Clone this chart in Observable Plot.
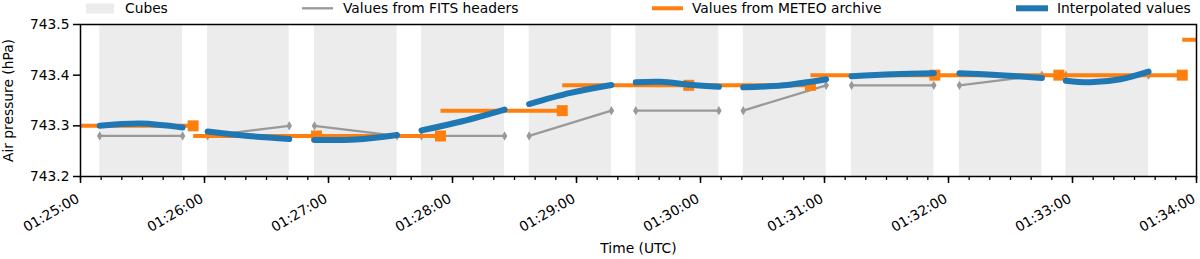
<!DOCTYPE html>
<html><head><meta charset="utf-8">
<script src="https://cdn.jsdelivr.net/npm/d3@7"></script>
<script src="https://cdn.jsdelivr.net/npm/@observablehq/plot@0.6"></script>
<style>
body{margin:0;background:#fff;}
#wrap{position:relative;width:1200px;height:259px;font-family:"DejaVu Sans",sans-serif;}
#legend{position:absolute;left:0;top:0;}
#chart{position:absolute;left:0;top:0;}
</style></head><body><div id="wrap"><div id="chart"></div><div id="legend"></div></div>
<script>
// ---- data ----
const cubeStart = ["01:25:09.3","01:26:01.5","01:26:53.2","01:27:45.0","01:28:37.1","01:29:28.7","01:30:20.7","01:31:13.1","01:32:05.3","01:32:56.8"];
const cubeEnd   = ["01:25:49.4","01:26:41.0","01:27:33.2","01:28:25.2","01:29:16.9","01:30:08.9","01:31:00.8","01:31:52.9","01:32:45.2","01:33:36.8"];
const fitsStart = [743.28,743.28,743.30,743.28,743.28,743.33,743.33,743.38,743.38,743.40];
const fitsEnd   = [743.28,743.30,743.28,743.28,743.33,743.33,743.38,743.38,743.40,743.40];
const meteoTimes  = ["01:24:54.5","01:25:54.5","01:26:54.2","01:27:54.2","01:28:53.1","01:29:54.3","01:30:53.2","01:31:53.4","01:32:53.4","01:33:53.1","01:34:53.0"];
const meteoValues = [743.30,743.30,743.28,743.28,743.33,743.38,743.38,743.40,743.40,743.40,743.47];
const interpCube  = [0,0,0, 1,1,1, 2,2,2, 3,3,3, 4,4,4, 5,5,5,5, 6,6,6, 7,7,7, 8,8,8, 9,9,9,9];
const interpTimes = ["01:25:09.3","01:25:29.0","01:25:49.4",
  "01:26:01.5","01:26:21.3","01:26:41.0",
  "01:26:53.2","01:27:13.1","01:27:33.2",
  "01:27:45.0","01:28:04.8","01:28:25.2",
  "01:28:37.1","01:28:57.1","01:29:16.9",
  "01:29:28.7","01:29:40.6","01:29:55.2","01:30:08.9",
  "01:30:20.7","01:30:40.2","01:31:00.8",
  "01:31:13.1","01:31:33.0","01:31:52.9",
  "01:32:05.3","01:32:25.2","01:32:45.2",
  "01:32:56.8","01:33:08.7","01:33:23.2","01:33:36.8"];
const interpValues = [743.300,743.3045,743.2966,
  743.289,743.280,743.274,
  743.272,743.273,743.282,
  743.291,743.309,743.332,
  743.343,743.365,743.3805,
  743.386,743.387,743.381,743.377,
  743.376,743.380,743.392,
  743.398,743.402,743.404,
  743.404,743.400,743.3945,
  743.389,743.386,743.392,743.407];
const xTickLabels = ["01:25:00","01:26:00","01:27:00","01:28:00","01:29:00","01:30:00","01:31:00","01:32:00","01:33:00","01:34:00"];
const yTicks = [743.2,743.3,743.4,743.5];
const legendLabels = ["Cubes","Values from FITS headers","Values from METEO archive","Interpolated values"];
const xLabel = "Time (UTC)";
const yLabel = "Air pressure (hPa)";

// ---- helpers ----
const T = s => { const [h,m,sec] = s.split(":").map(Number); return new Date(Date.UTC(2020,0,1,h,m) + sec*1000); };
const BLUE = "#1f77b4", ORANGE = "#ff7f0e", GRAY = "#999999", BAND = "#ececec";
const FONT = "DejaVu Sans";
const FS = 13.8;

const cubes = cubeStart.map((s,i) => ({s:T(s), e:T(cubeEnd[i]), v1:fitsStart[i], v2:fitsEnd[i]}));
const fitsPts = cubes.flatMap(c => [{t:c.s, v:c.v1},{t:c.e, v:c.v2}]);
const meteo = meteoTimes.map((t,i) => ({t:T(t), v:meteoValues[i]}));
const meteoSeg = meteo.slice(1).map((d,i) => ({t1:meteo[i].t, t2:d.t, v:d.v}));
const interp = interpTimes.map((t,i) => ({t:T(t), v:interpValues[i], c:interpCube[i]}));
const xTicks = xTickLabels.map(T);

const thinDiamond = { draw(ctx, size) { const r = Math.sqrt(size/Math.PI); ctx.moveTo(0,-r); ctx.lineTo(r*0.6,0); ctx.lineTo(0,r); ctx.lineTo(-r*0.6,0); ctx.closePath(); } };

const chart = Plot.plot({
  width:1200, height:259, marginTop:24, marginBottom:83, marginLeft:80, marginRight:4,
  x:{type:"utc", domain:[xTicks[0], xTicks[xTicks.length-1]]},
  y:{domain:[yTicks[0], yTicks[yTicks.length-1]]},
  style:{fontFamily:FONT, fontSize:FS+"px", background:"white", color:"black", overflow:"visible"},
  marks:[
    Plot.rect(cubes, {x1:"s", x2:"e", y1:yTicks[0], y2:yTicks[yTicks.length-1], fill:BAND}),
    Plot.link(cubes, {x1:"s", x2:"e", y1:"v1", y2:"v2", stroke:GRAY, strokeWidth:2.3}),
    Plot.dot(fitsPts, {x:"t", y:"v", symbol:thinDiamond, r:4.6, fill:GRAY, stroke:null}),
    Plot.link(meteoSeg, {x1:"t1", x2:"t2", y1:"v", y2:"v", stroke:ORANGE, strokeWidth:4, clip:true}),
    Plot.dot(meteo, {x:"t", y:"v", symbol:"square", r:6.2, fill:ORANGE, stroke:null, clip:true}),
    Plot.line(interp, {x:"t", y:"v", z:"c", stroke:BLUE, strokeWidth:6, curve:"catmull-rom", strokeLinecap:"round"}),
    Plot.frame({stroke:"black", strokeWidth:1.5}),
    Plot.axisY({ticks:yTicks, tickFormat:d=>d.toFixed(1), tickSize:7, tickPadding:4, strokeWidth:1.5, label:null, fontSize:FS}),
    Plot.axisX({ticks:d3.utcSecond.every(10), tickSize:4, strokeWidth:1.3, text:null, label:null}),
    Plot.axisX({ticks:xTicks, tickSize:7, strokeWidth:1.5, text:null, label:null}),
    Plot.text(xTicks, {x:d=>d, text:(d,i)=>xTickLabels[i], frameAnchor:"bottom", rotate:-30, textAnchor:"end", lineAnchor:"middle", dx:-2.4, dy:21, fontSize:FS, fill:"black"}),
    Plot.text([xLabel], {frameAnchor:"bottom", textAnchor:"middle", lineAnchor:"middle", dy:72, fontSize:FS, fill:"black"}),
    Plot.text([yLabel], {frameAnchor:"left", textAnchor:"middle", lineAnchor:"middle", rotate:-90, dx:-71.5, fontSize:FS, fill:"black"})
  ]
});
document.getElementById("chart").appendChild(chart);

// ---- legend ----
const lg = d3.select("#legend").append("svg").attr("width",1200).attr("height",20)
  .style("font-family",FONT).style("font-size",FS+"px");
lg.append("rect").attr("x",86).attr("y",3.5).attr("width",28).attr("height",10).attr("fill",BAND);
lg.append("line").attr("x1",302).attr("x2",333).attr("y1",8.3).attr("y2",8.3).attr("stroke",GRAY).attr("stroke-width",2.3);
lg.append("line").attr("x1",652).attr("x2",683).attr("y1",8.3).attr("y2",8.3).attr("stroke",ORANGE).attr("stroke-width",4);
lg.append("line").attr("x1",1016).attr("x2",1048).attr("y1",8.3).attr("y2",8.3).attr("stroke",BLUE).attr("stroke-width",6);
const tx = [125, 343, 692, 1057];
legendLabels.forEach((l,i) => lg.append("text").attr("x",tx[i]).attr("y",13.3).attr("fill","black").text(l));
</script></body></html>
